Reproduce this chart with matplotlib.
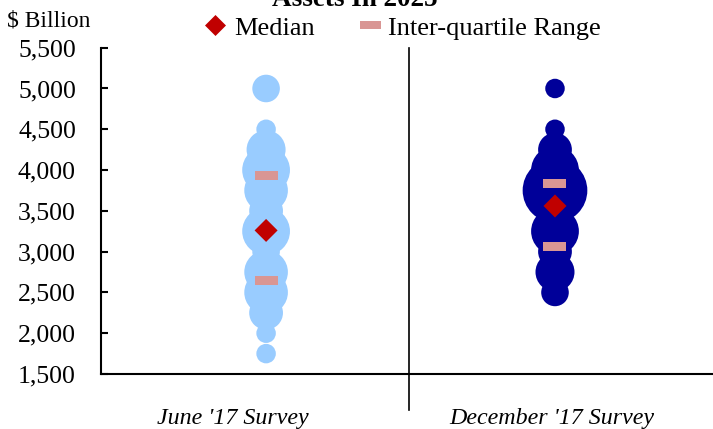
import matplotlib
matplotlib.use("Agg")
import matplotlib.pyplot as plt
from matplotlib.lines import Line2D
import numpy as np

# ---- data ----
categories = ["June '17 Survey", "December '17 Survey"]
june_values = [1750, 2000, 2250, 2500, 2750, 3000, 3250, 3500, 3750, 4000, 4250, 4500, 5000]
june_counts = [1, 1, 3, 5, 5, 2, 6, 3, 5, 6, 4, 1, 2]
dec_values = [2500, 2750, 3000, 3250, 3500, 3750, 4000, 4250, 4500, 5000]
dec_counts = [2, 4, 3, 6, 3, 11, 6, 3, 1, 1]
medians = [3260, 3560]
iqr_low = [2650, 3065]
iqr_high = [3930, 3833]
y_ticks = [1500, 2000, 2500, 3000, 3500, 4000, 4500, 5000, 5500]

# ---- styling / positions ----
x_pos = [0.536, 1.474]
label_x = [0.429, 1.464]
col_june = "#99CCFF"
col_dec = "#000099"
col_med = "#C00000"
col_iqr = "#D99694"
serif = ["Liberation Serif", "DejaVu Serif"]
plt.rcParams["font.family"] = serif

fig = plt.figure(figsize=(7.13, 4.29), dpi=100)
ax = fig.add_axes([101/713, 55/429, 612/713, 326.3/429])

px_per_pt = 100/72
d1 = 19.5 / px_per_pt  # diameter (pt) of a single-count bubble
s_unit = d1**2

for xp, vals, cnts, col in [(x_pos[0], june_values, june_counts, col_june),
                            (x_pos[1], dec_values, dec_counts, col_dec)]:
    order = np.argsort(cnts)[::-1]
    v = np.array(vals)[order]
    c = np.array(cnts)[order]
    ax.scatter(np.full(len(v), xp), v, s=c*s_unit, color=col, edgecolors="none", zorder=2)

rect_marker = [(-1.15, -0.45), (1.15, -0.45), (1.15, 0.45), (-1.15, 0.45), (-1.15, -0.45)]
diam_marker = [(0, 1), (1, 0), (0, -1), (-1, 0), (0, 1)]

ax.scatter(x_pos, iqr_low, marker=rect_marker, s=(23/px_per_pt)**2, color=col_iqr, edgecolors="none", zorder=3)
ax.scatter(x_pos, iqr_high, marker=rect_marker, s=(23/px_per_pt)**2, color=col_iqr, edgecolors="none", zorder=3)
ax.scatter(x_pos, medians, marker=diam_marker, s=(23/px_per_pt)**2, color=col_med, edgecolors="none", zorder=4)

ax.set_xlim(0, 1.987)
ax.set_ylim(1500, 5500)
ax.set_yticks(y_ticks)
ax.set_yticklabels([f"{t:,}" for t in y_ticks])
ax.set_xticks([])
for sp in ["top", "right"]:
    ax.spines[sp].set_visible(False)
for sp in ["left", "bottom"]:
    ax.spines[sp].set_linewidth(1.5)
    ax.spines[sp].set_color("black")
ax.tick_params(axis="y", direction="in", length=5, width=1.5, pad=18, labelsize=18.5)

# divider between categories
ax.plot([1, 1], [1060, 5500], color="black", lw=1.2, clip_on=False, zorder=1)

for lx, lab in zip(label_x, categories):
    ax.text(lx, 1500 - 618, lab, ha="center", va="baseline", fontsize=17.3, style="italic")

fig.text(7/713, 1 - 26/429, "$ Billion", fontsize=17, ha="left", va="baseline")
fig.text(355/713, 1 - 6/429, "Assets In 2025", fontsize=19.5, fontweight="bold", ha="center", va="baseline")

handles = [
    Line2D([], [], ls="none", marker=diam_marker, markersize=21/px_per_pt, color=col_med, markeredgewidth=0),
    Line2D([], [], ls="none", marker=rect_marker, markersize=21/px_per_pt, color=col_iqr, markeredgewidth=0),
]
fig.legend(handles, ["Median", "Inter-quartile Range"], loc="center",
           bbox_to_anchor=(403/713, 1 - 28/429), ncol=2, frameon=False, fontsize=19,
           handlelength=0.8, handletextpad=0.3, columnspacing=1.7, borderpad=0, borderaxespad=0)

fig.savefig("out.png", dpi=100)
